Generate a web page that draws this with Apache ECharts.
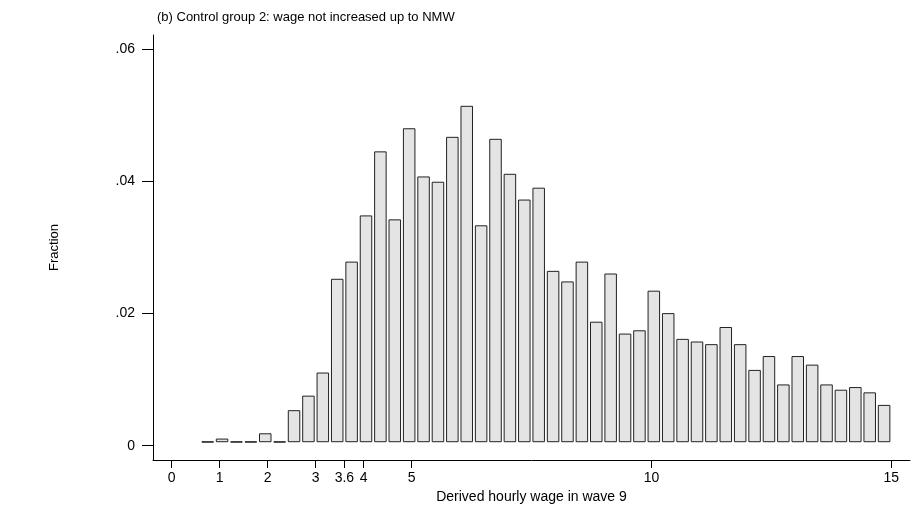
<!DOCTYPE html>
<html>
<head>
<meta charset="utf-8">
<script src="https://cdn.jsdelivr.net/npm/echarts@6/dist/echarts.min.js"></script>
</head>
<body style="margin:0">
<div id="main" style="width:918px;height:506px;"></div>
<script>
// bin centres (wage, £) and bar heights (fraction)
var binCenters = [0.75, 1.05, 1.35, 1.65, 1.95, 2.25, 2.55, 2.85, 3.15, 3.45, 3.75, 4.05,
  4.35, 4.65, 4.95, 5.25, 5.55, 5.85, 6.15, 6.45, 6.75, 7.05, 7.35, 7.65, 7.95, 8.25,
  8.55, 8.85, 9.15, 9.45, 9.75, 10.05, 10.35, 10.65, 10.95, 11.25, 11.55, 11.85, 12.15,
  12.45, 12.75, 13.05, 13.35, 13.65, 13.95, 14.25, 14.55, 14.85];
var fractions = [0.0006, 0.0010, 0.0006, 0.0006, 0.0018, 0.0006, 0.0053, 0.0075, 0.0110,
  0.0252, 0.0278, 0.0348, 0.0445, 0.0342, 0.0480, 0.0407, 0.0399, 0.0467, 0.0514, 0.0333,
  0.0464, 0.0411, 0.0372, 0.0390, 0.0264, 0.0248, 0.0278, 0.0187, 0.0260, 0.0169, 0.0174,
  0.0234, 0.0200, 0.0161, 0.0157, 0.0153, 0.0179, 0.0153, 0.0114, 0.0135, 0.0092, 0.0135,
  0.0122, 0.0092, 0.0084, 0.0088, 0.0080, 0.0061];
var xTicks = [0, 1, 2, 3, 3.6, 4, 5, 10, 15];
var xTickLabels = ['0', '1', '2', '3', '3.6', '4', '5', '10', '15'];
var yTicks = [0, 0.02, 0.04, 0.06];
var yTickLabels = ['0', '.02', '.04', '.06'];
var barBase = 0.0006;
var barWidth = 0.24;

var font = 'Liberation Sans';
var chart = echarts.init(document.getElementById('main'));

var data = binCenters.map(function (c, i) { return [c, fractions[i]]; });

chart.setOption({
  animation: false,
  textStyle: { fontFamily: font },
  title: {
    text: '(b) Control group 2: wage not increased up to NMW',
    left: 152, top: 6,
    textStyle: { fontSize: 13, fontWeight: 'normal', color: '#000', fontFamily: font }
  },
  grid: { left: 153, right: 8, top: 35, bottom: 46, outerBoundsMode: 'none' },
  xAxis: {
    type: 'value', min: -0.39, max: 15.39,
    splitLine: { show: false },
    axisLine: { onZero: false, lineStyle: { color: '#000', width: 1 } },
    axisTick: { customValues: xTicks, length: 8, lineStyle: { color: '#000' } },
    axisLabel: {
      customValues: xTicks, color: '#000', fontSize: 14, margin: 11,
      formatter: function (v) { return xTickLabels[xTicks.indexOf(v)]; }
    },
    name: 'Derived hourly wage in wave 9',
    nameLocation: 'middle', nameGap: 19,
    nameTextStyle: { fontSize: 14, color: '#000' }
  },
  yAxis: {
    type: 'value', min: -0.00217, max: 0.0622,
    splitLine: { show: false },
    axisLine: { show: true, onZero: false, lineStyle: { color: '#000', width: 1 } },
    axisTick: { show: true, customValues: yTicks, length: 11, lineStyle: { color: '#000' } },
    axisLabel: {
      customValues: yTicks, color: '#000', fontSize: 14, margin: 18,
      formatter: function (v) { return yTickLabels[yTicks.indexOf(v)]; }
    },
    name: 'Fraction', nameLocation: 'middle', nameGap: 92, nameRotate: 90,
    nameTextStyle: { fontSize: 13, color: '#000' }
  },
  series: [{
    type: 'custom',
    data: data,
    renderItem: function (params, api) {
      var c = api.value(0), v = api.value(1);
      var p1 = api.coord([c - barWidth / 2, v]);
      var p2 = api.coord([c + barWidth / 2, barBase]);
      return {
        type: 'rect',
        shape: { x: p1[0], y: p1[1], width: p2[0] - p1[0], height: Math.max(p2[1] - p1[1], 0.5) },
        style: { fill: '#e4e4e4', stroke: '#222', lineWidth: 1 }
      };
    }
  }]
});
</script>
</body>
</html>
